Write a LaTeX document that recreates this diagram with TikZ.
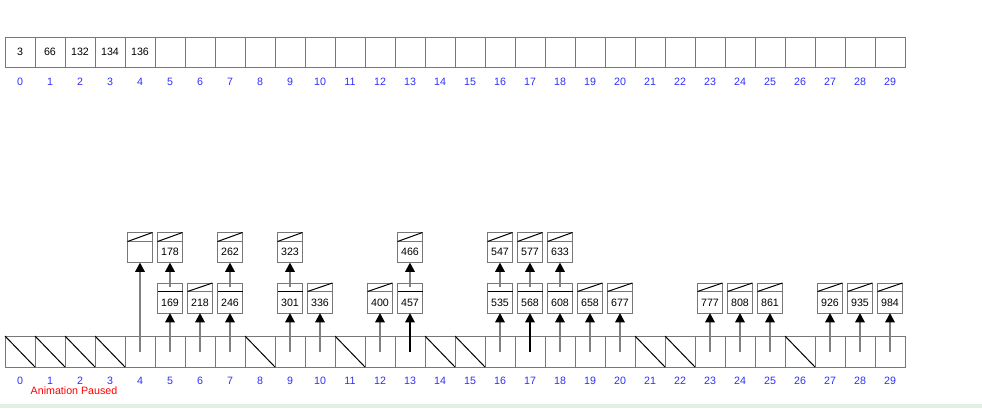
\documentclass[tikz,border=0pt]{standalone}
\usepackage{fontspec}
\setmainfont{Liberation Sans}
\usetikzlibrary{arrows.meta}
\definecolor{boxgray}{HTML}{777777}
\definecolor{ptrgray}{HTML}{808080}
\definecolor{idxblue}{HTML}{2E2EFF}
\definecolor{stripgreen}{HTML}{E3EFE3}
\tikzset{
  cell/.style={draw=boxgray, line width=0.75pt, minimum width=22.5pt, minimum height=22.5pt, inner sep=0pt, outer sep=0pt, font=\fontsize{8}{9}\selectfont},
  bcell/.style={cell, minimum height=23.25pt},
  idx/.style={text=idxblue, font=\fontsize{8}{9}\selectfont, inner sep=0pt},
  lbox/.style={draw=boxgray, line width=0.75pt, minimum width=18.75pt, minimum height=22.5pt, inner sep=0pt, outer sep=0pt},
  lval/.style={font=\fontsize{8}{9}\selectfont, inner sep=0pt},
  nullline/.style={black, line width=0.75pt},
  divnull/.style={boxgray, line width=0.75pt},
  divptr/.style={black, line width=1.2pt},
  ptr/.style={ptrgray, line width=1.5pt, -{Triangle[black,length=7pt,width=7pt]}},
  ptrdark/.style={black, line width=1.5pt, -{Triangle[black,length=7pt,width=7pt]}},
}
\begin{document}
\begin{tikzpicture}[x=0.75pt,y=-0.75pt]
\useasboundingbox (0,0) rectangle (982,408);
\fill[stripgreen] (0,404) rectangle (982,408);
% top array
\foreach \i in {0,...,29} {
  \node[cell] (t\i) at ({20+30*\i},52) {};
  \node[idx] (tl\i) at ({20+30*\i},82) {\i};
}
\foreach \i/\v in {0/3,1/66,2/132,3/134,4/136} {
  \node[lval] (tv\i) at (t\i.center) {\v};
}
% bottom array
\foreach \i in {0,...,29} {
  \node[bcell] (c\i) at ({20+30*\i},351.5) {};
  \node[idx] (cl\i) at ({20+30*\i},381) {\i};
}
\foreach \i in {0,1,2,3,8,11,14,15,21,22,26} {
  \draw[nullline] (c\i.north west) -- (c\i.south east);
}
\node[text=red, font=\fontsize{8}{9}\selectfont, inner sep=0pt] (paused) at (74,391) {Animation Paused};
% level 2 nodes (all null next)
\foreach \i/\v in {4/{},5/178,7/262,9/323,13/466,16/547,17/577,18/633} {
  \node[lbox] (b\i) at ({20+30*\i},247.5) {};
  \node[lval] (bv\i) at ({20+30*\i},252) {\v};
  \draw[divnull] (b\i.north west) ++(0,9) -- ++(25,0);
  \draw[nullline] (b\i.north west) ++(0,9) -- (b\i.north east);
}
% level 1 nodes
\foreach \i/\v/\p in {5/169/1,6/218/0,7/246/1,9/301/1,10/336/0,12/400/0,13/457/1,16/535/1,17/568/1,18/608/1,19/658/0,20/677/0,23/777/0,24/808/0,25/861/0,27/926/0,28/935/0,29/984/0} {
  \node[lbox] (a\i) at ({20+30*\i},298) {};
  \node[lval] (av\i) at ({20+30*\i},302.5) {\v};
  \ifnum\p=1
    \draw[divptr] (a\i.north west) ++(0,8.5) -- ++(25,0);
    \draw[ptr] ([yshift=-3pt]a\i.north) -- (b\i.south);
  \else
    \draw[divnull] (a\i.north west) ++(0,8.5) -- ++(25,0);
    \draw[nullline] (a\i.north west) ++(0,8.5) -- (a\i.north east);
  \fi
}
% pointers from bottom array
\foreach \i in {5,6,7,9,10,12,16,18,19,20,23,24,25,27,28,29} {
  \draw[ptr] (c\i.center) -- (a\i.south);
}
\foreach \i in {13,17} {
  \draw[ptrdark] (c\i.center) -- (a\i.south);
}
\draw[ptr] (c4.center) -- (b4.south);
\end{tikzpicture}
\end{document}
